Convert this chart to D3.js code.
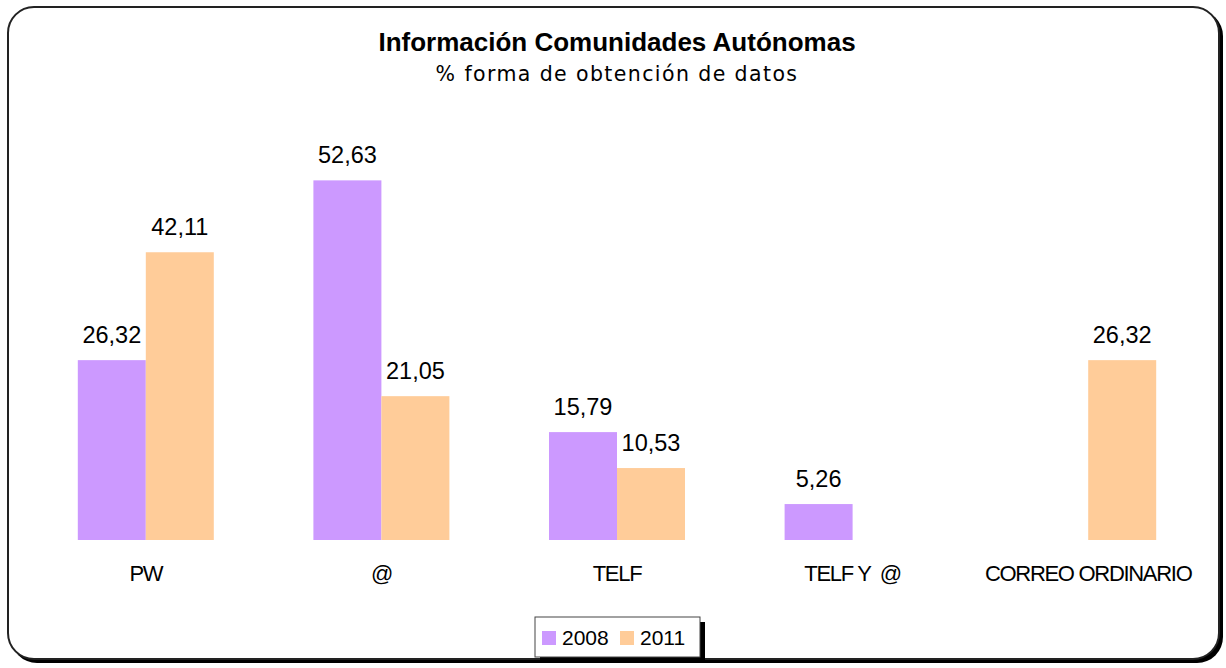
<!DOCTYPE html>
<html>
<head>
<meta charset="utf-8">
<script src="https://cdn.jsdelivr.net/npm/d3@7"></script>
<style>
  body { margin: 0; background: #fff; }
  text { font-family: "Liberation Sans", Arial, sans-serif; }
</style>
</head>
<body>
<div id="chart"></div>
<script>
// data
var categories = ["PW", "@", "TELF", "TELF Y  @", "CORREO ORDINARIO"];
var years = ["2008", "2011"];
var values2008 = [26.32, 52.63, 15.79, 5.26, 0];
var values2011 = [42.11, 21.05, 10.53, 0, 26.32];
var colors = ["#CC99FF", "#FFCC99"];

var W = 1226, H = 668;

var svg = d3.select("#chart").append("svg")
    .attr("width", W)
    .attr("height", H);

// frame with shadow
svg.append("rect")
    .attr("x", 11).attr("y", 10)
    .attr("width", 1212).attr("height", 653)
    .attr("rx", 26).attr("ry", 26)
    .attr("fill", "#000");
svg.append("rect")
    .attr("x", 8).attr("y", 7)
    .attr("width", 1211).attr("height", 652)
    .attr("rx", 26).attr("ry", 26)
    .attr("fill", "#fff")
    .attr("stroke", "#222")
    .attr("stroke-width", 2);

// title
svg.append("text")
    .attr("x", 617).attr("y", 51)
    .attr("text-anchor", "middle")
    .attr("font-size", "26px")
    .attr("font-weight", "bold")
    .text("Información Comunidades Autónomas");
svg.append("text")
    .attr("x", 617).attr("y", 81)
    .attr("text-anchor", "middle")
    .attr("letter-spacing", "1.4px")
    .style("font-family", "'DejaVu Sans', sans-serif")
    .style("font-size", "20.5px")
    .text("% forma de obtención de datos");

// scales
var x0 = d3.scaleBand()
    .domain(categories)
    .range([28, 1206])
    .paddingInner(0)
    .paddingOuter(0);
var x1 = d3.scaleBand()
    .domain(years)
    .range([x0.bandwidth() / 2 - 68, x0.bandwidth() / 2 + 68]);
var y = d3.scaleLinear()
    .domain([0, 60])
    .range([540, 130]);

var rows = categories.map(function(c, i) {
  return { cat: c, vals: [values2008[i], values2011[i]] };
});

var g = svg.selectAll(".grp")
    .data(rows)
  .enter().append("g")
    .attr("class", "grp")
    .attr("transform", function(d) { return "translate(" + x0(d.cat) + ",0)"; });

var bars = g.selectAll("g.bar")
    .data(function(d) {
      return d.vals.map(function(v, j) { return { year: years[j], v: v, j: j }; });
    })
  .enter().append("g").attr("class", "bar");

bars.filter(function(d) { return d.v > 0; })
  .append("rect")
    .attr("x", function(d) { return x1(d.year); })
    .attr("width", x1.bandwidth())
    .attr("y", function(d) { return y(d.v); })
    .attr("height", function(d) { return y(0) - y(d.v); })
    .attr("fill", function(d) { return colors[d.j]; });

bars.filter(function(d) { return d.v > 0; })
  .append("text")
    .attr("x", function(d) { return x1(d.year) + x1.bandwidth() / 2; })
    .attr("y", function(d) { return y(d.v) - 17; })
    .attr("text-anchor", "middle")
    .attr("font-size", "23.5px")
    .text(function(d) { return d3.format(".2f")(d.v).replace(".", ","); });

// category labels
var xAxis = svg.append("g");
xAxis.selectAll("text")
    .data(categories)
  .enter().append("text")
    .attr("x", function(d) { return x0(d) + x0.bandwidth() / 2; })
    .attr("y", 581)
    .attr("text-anchor", "middle")
    .attr("font-size", "22px")
    .attr("letter-spacing", "-1.3px")
    .style("white-space", "pre")
    .text(function(d) { return d; });

// legend
var lg = svg.append("g");
lg.append("rect")
    .attr("x", 540).attr("y", 622).attr("width", 165).attr("height", 40)
    .attr("fill", "#000");
lg.append("rect")
    .attr("x", 535).attr("y", 617).attr("width", 165).attr("height", 40)
    .attr("fill", "#fff").attr("stroke", "#444").attr("stroke-width", 1);
var li = lg.selectAll("g.item")
    .data(years)
  .enter().append("g").attr("class", "item")
    .attr("transform", function(d, i) { return "translate(" + (542 + i * 78) + ",0)"; });
li.append("rect")
    .attr("x", 0).attr("y", 631).attr("width", 14).attr("height", 14)
    .attr("fill", function(d, i) { return colors[i]; });
li.append("text")
    .attr("x", 20).attr("y", 645)
    .attr("font-size", "21px")
    .text(function(d) { return d; });
</script>
</body>
</html>
